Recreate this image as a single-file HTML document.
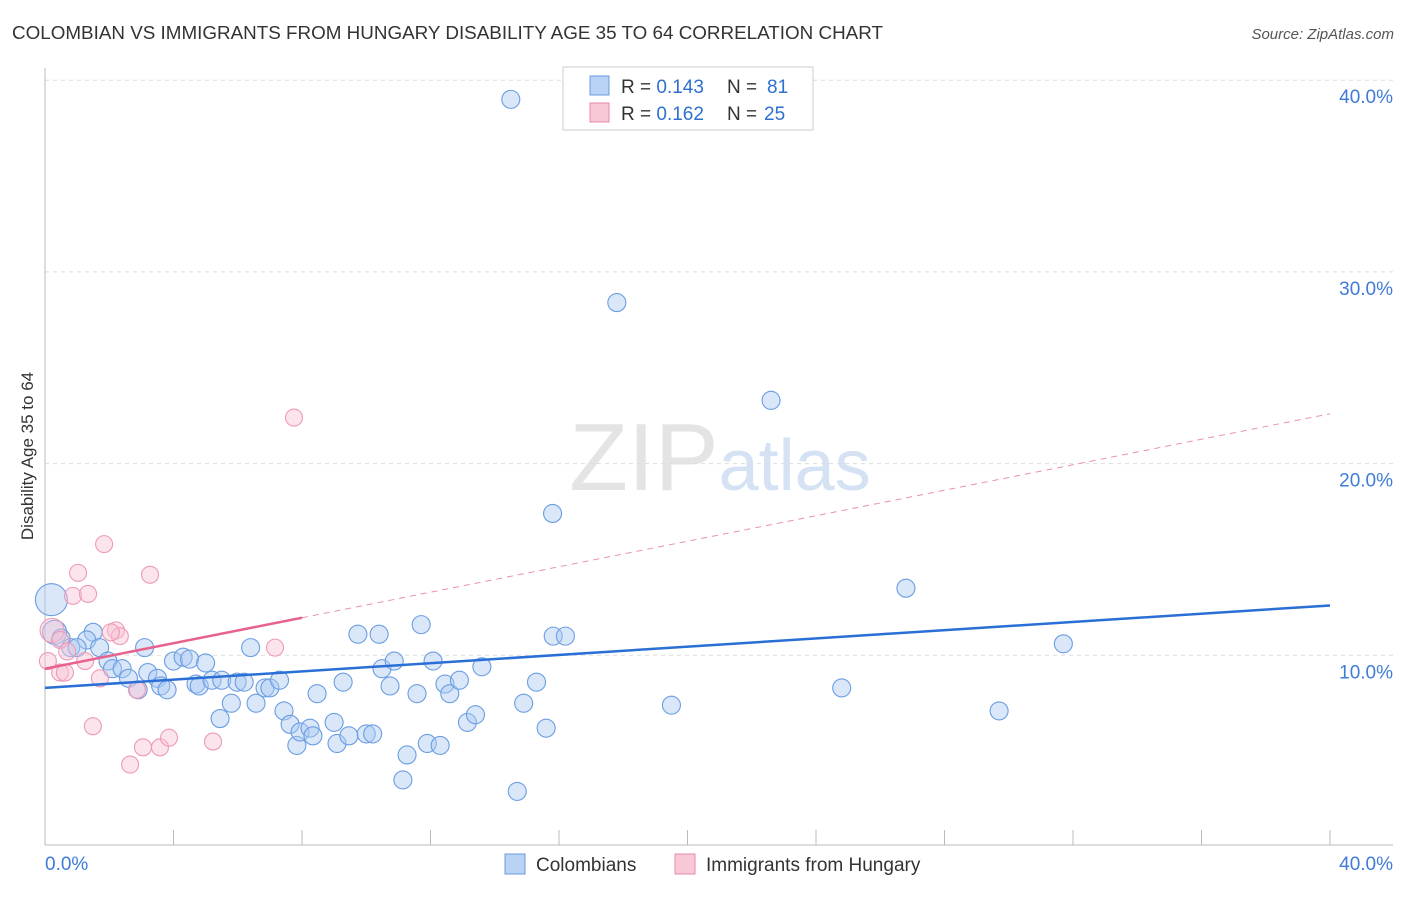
<!DOCTYPE html>
<html><head><meta charset="utf-8"><style>
body{margin:0;background:#fff;font-family:"Liberation Sans",sans-serif}
svg text{font-family:"Liberation Sans",sans-serif}
</style></head><body>
<svg id="chart" width="1406" height="892" xmlns="http://www.w3.org/2000/svg">
<text x="12" y="39" font-size="18" fill="#333" textLength="871" lengthAdjust="spacingAndGlyphs">COLOMBIAN VS IMMIGRANTS FROM HUNGARY DISABILITY AGE 35 TO 64 CORRELATION CHART</text>
<text x="1394" y="39" font-size="15" fill="#555" text-anchor="end" font-style="italic">Source: ZipAtlas.com</text>
<text x="0" y="0" transform="translate(33,456) rotate(-90)" font-size="17" fill="#333" text-anchor="middle">Disability Age 35 to 64</text>
<text x="720" y="490" font-size="96" fill="#e4e4e4" text-anchor="middle" font-family="Liberation Serif">ZIP<tspan fill="#d4e2f4" font-family="Liberation Sans" font-size="72">atlas</tspan></text>
<g id="grid"></g><g id="axes"></g><g id="pts"></g><g id="lines"></g>
<g>
<rect x="563" y="67" width="250" height="63" fill="#fff" stroke="#ccc"/>
<rect x="590" y="76" width="19" height="19" fill="#b8d3f5" stroke="#6a9be0"/>
<rect x="590" y="103" width="19" height="19" fill="#f9c8d6" stroke="#e88aa8"/>
<text x="621" y="93" font-size="19" fill="#333">R = <tspan fill="#2f6fd0">0.143</tspan></text>
<text x="727" y="93" font-size="19" fill="#333">N = </text><text x="767" y="93" font-size="19" fill="#2f6fd0">81</text>
<text x="621" y="120" font-size="19" fill="#333">R = <tspan fill="#2f6fd0">0.162</tspan></text>
<text x="727" y="120" font-size="19" fill="#333">N = </text><text x="764" y="120" font-size="19" fill="#2f6fd0">25</text>
</g>
<g>
<rect x="505" y="854" width="20" height="20" fill="#b8d3f5" stroke="#6a9be0"/>
<text x="536" y="871" font-size="19" fill="#333">Colombians</text>
<rect x="675" y="854" width="20" height="20" fill="#f9c8d6" stroke="#e88aa8"/>
<text x="706" y="871" font-size="19" fill="#333">Immigrants from Hungary</text>
</g>
</svg>
<script>
const yTicks=[10,20,30,40];
const xTickVals=[0,4,8,12,16,20,24,28,32,36,40];
const blueX=[14.5,17.8,22.6,15.8,26.8,31.7,24.8,19.5,29.7,0.2,0.3,0.5,0.8,1.5,1.3,1.0,1.7,3.1,1.96,2.1,2.4,2.6,2.9,3.2,3.5,3.6,3.8,4.0,4.3,4.5,4.7,4.8,5.0,5.2,5.5,5.8,5.45,5.98,6.2,6.4,6.57,6.85,7.0,7.3,7.44,7.63,7.84,7.94,8.25,8.34,8.47,9.0,9.09,9.28,9.46,9.74,10.0,10.2,10.4,10.49,10.74,10.87,11.14,11.27,11.58,11.71,11.9,12.08,12.3,12.45,12.6,12.9,13.15,13.4,13.6,14.7,14.9,15.3,15.6,15.82,16.2];
const blueY=[39.0,28.4,23.3,17.4,13.5,10.6,8.3,7.4,7.1,12.9,11.2,10.9,10.4,11.2,10.8,10.4,10.4,10.4,9.7,9.3,9.3,8.8,8.2,9.1,8.8,8.4,8.2,9.7,9.9,9.8,8.5,8.4,9.6,8.7,8.7,7.5,6.7,8.6,8.6,10.4,7.5,8.3,8.3,8.7,7.1,6.4,5.3,6.0,6.2,5.8,8.0,6.5,5.4,8.6,5.8,11.1,5.9,5.9,11.1,9.3,8.4,9.7,3.5,4.8,8.0,11.6,5.4,9.7,5.3,8.5,8.0,8.7,6.5,6.9,9.4,2.9,7.5,8.6,6.2,11.0,11.0];
const blueR=[9,9,9,9,9,9,9,9,9,16,12,9,9,9,9,9,9,9,9,9,9,9,9,9,9,9,9,9,9,9,9,9,9,9,9,9,9,9,9,9,9,9,9,9,9,9,9,9,9,9,9,9,9,9,9,9,9,9,9,9,9,9,9,9,9,9,9,9,9,9,9,9,9,9,9,9,9,9,9,9,9];
const pinkX=[1.84,1.03,3.27,0.87,1.34,0.22,0.47,2.21,2.33,2.05,0.69,1.25,0.47,0.62,1.71,2.86,7.16,7.75,1.49,2.65,3.05,3.58,3.86,5.23,0.09];
const pinkY=[15.8,14.3,14.2,13.1,13.2,11.3,10.8,11.3,11.0,11.2,10.2,9.7,9.1,9.1,8.8,8.2,10.4,22.4,6.3,4.3,5.2,5.2,5.7,5.5,9.7];
const blueTrend=[8.3,12.6];
const pinkTrend=[9.3,22.6];
const X=v=>45+v*32.125, Y=v=>847-v*19.17;
const ns="http://www.w3.org/2000/svg";
function mk(t,a,p){const e=document.createElementNS(ns,t);for(const k in a)e.setAttribute(k,a[k]);p.appendChild(e);return e;}
const grid=document.getElementById('grid'),axes=document.getElementById('axes'),pts=document.getElementById('pts'),lines=document.getElementById('lines');
yTicks.forEach(v=>{
 const l=mk('line',{x1:45,x2:1393,y1:Y(v),y2:Y(v),stroke:'#ddd','stroke-dasharray':'4,4'},grid);
 
 
 const t=mk('text',{x:1393,y:Y(v)+23,'font-size':19,fill:'#3f7bd8','text-anchor':'end'},grid);
 t.textContent=v.toFixed(1)+'%';
 
 
});
const ya=mk('line',{x1:45,x2:45,y1:68,y2:845,stroke:'#bbb'},axes);


const xa=mk('line',{x1:45,x2:1393,y1:845,y2:845,stroke:'#bbb'},axes);


xTickVals.forEach(v=>{const t=mk('line',{x1:X(v),x2:X(v),y1:830,y2:845,stroke:'#bbb'},axes);
 
 });
[[0,'start',45],[40,'end',1393]].forEach(([v,a,x])=>{const t=mk('text',{x:x,y:870,'font-size':19,fill:'#3f7bd8','text-anchor':a},axes);t.textContent=v.toFixed(1)+'%';
 
 });
blueX.forEach((v,i)=>{const c=mk('circle',{cx:X(v),cy:Y(blueY[i]),r:blueR[i],fill:'rgba(170,202,242,0.45)',stroke:'#6a9de2','stroke-width':1.1},pts);
 
 });
pinkX.forEach((v,i)=>{const c=mk('circle',{cx:X(v),cy:Y(pinkY[i]),r:(i==5?12:8.5),fill:'rgba(248,195,212,0.45)',stroke:'#ee9ab6','stroke-width':1.1},pts);
 
 });
const bl=mk('line',{x1:X(0),y1:Y(blueTrend[0]),x2:X(40),y2:Y(blueTrend[1]),stroke:'#2a6fd6','stroke-width':2.5},lines);


const pv=x=>pinkTrend[0]+(pinkTrend[1]-pinkTrend[0])*x/40;
const pd=mk('line',{x1:X(8),y1:Y(pv(8)),x2:X(40),y2:Y(pv(40)),stroke:'#e891ab','stroke-width':1,'stroke-dasharray':'6,5'},lines);


const ps=mk('line',{x1:X(0),y1:Y(pv(0)),x2:X(8),y2:Y(pv(8)),stroke:'#e8628e','stroke-width':2.5},lines);


</script>
</body></html>
